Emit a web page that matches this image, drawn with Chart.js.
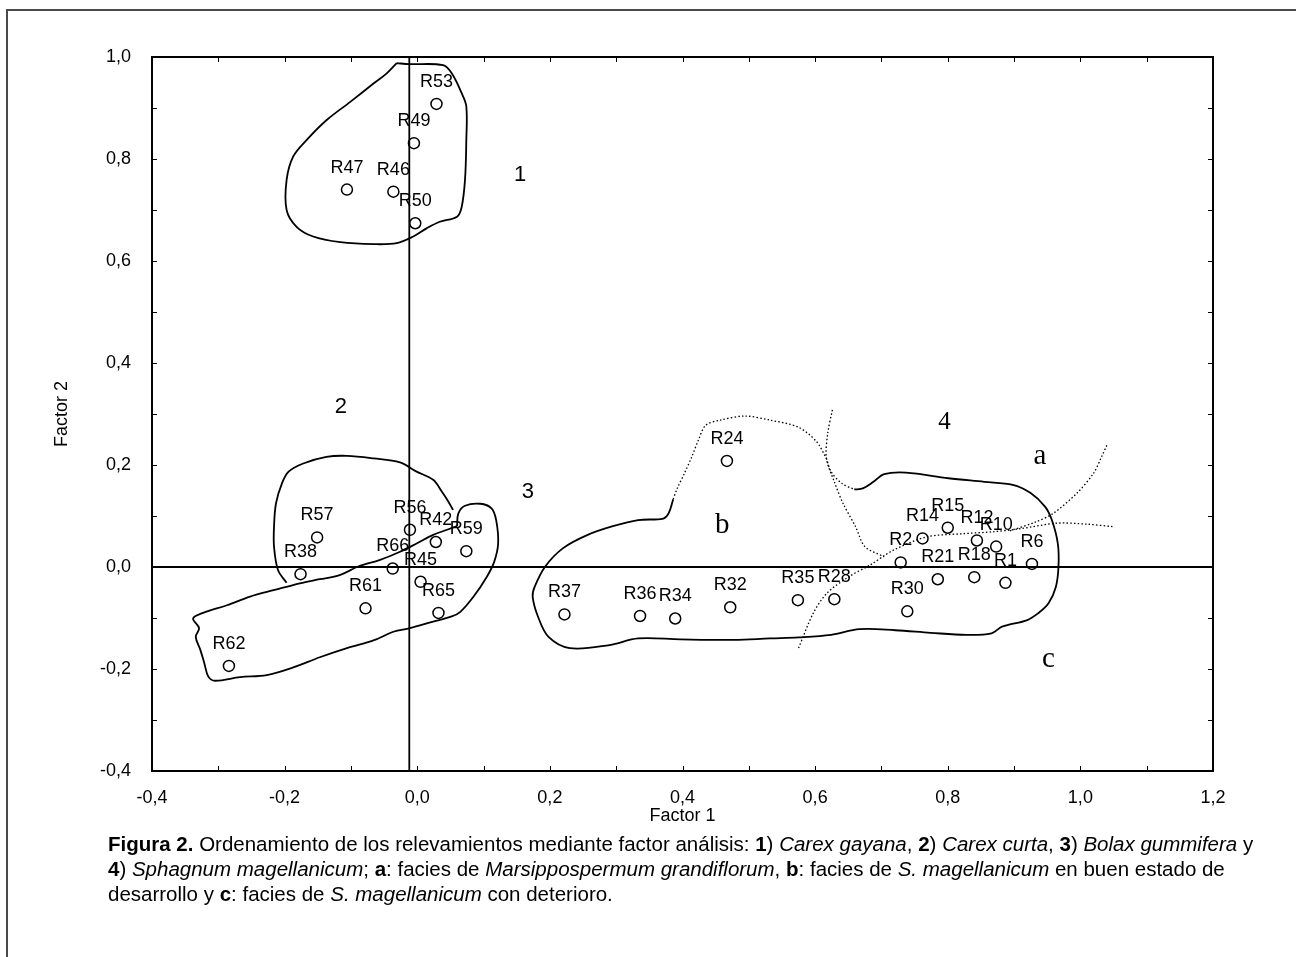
<!DOCTYPE html>
<html>
<head>
<meta charset="utf-8">
<script src="https://cdn.jsdelivr.net/npm/chart.js@4.4.1/dist/chart.umd.min.js"></script>
<style>
  body { margin: 0; background: #fff; width: 1296px; height: 957px; overflow: hidden; position: relative;
         font-family: "Liberation Sans", Arial, sans-serif; }
  #marco { position: absolute; left: 6px; top: 9px; right: -10px; bottom: -10px;
           border-top: 2px solid #4a4a4a; border-left: 2px solid #4a4a4a; }
  #grafico { position: absolute; left: 0; top: 0; }
  #leyenda { position: absolute; left: 108px; top: 831px; font-size: 20.5px; line-height: 25px;
             color: #000; white-space: nowrap; }
</style>
</head>
<body>
<div id="marco"></div>
<canvas id="grafico" width="1296" height="840"></canvas>
<div id="leyenda">
  <b>Figura 2.</b> Ordenamiento de los relevamientos mediante factor análisis: <b>1</b>) <i>Carex gayana</i>, <b>2</b>) <i>Carex curta</i>, <b>3</b>) <i>Bolax gummifera</i> y<br>
  <b>4</b>) <i>Sphagnum magellanicum</i>; <b>a</b>: facies de <i>Marsippospermum grandiflorum</i>, <b>b</b>: facies de <i>S. magellanicum</i> en buen estado de<br>
  desarrollo y <b>c</b>: facies de <i>S. magellanicum</i> con deterioro.
</div>
<script>
// relevamientos
const nombres = ["R53", "R49", "R47", "R46", "R50", "R57", "R38", "R56", "R42", "R59", "R66", "R45", "R65", "R61", "R62",
  "R24", "R37", "R36", "R34", "R32", "R35", "R28", "R30", "R2", "R21", "R18", "R1", "R6", "R14", "R15", "R12", "R10"]
const factor1 = [0.029, -0.005, -0.106, -0.036, -0.003, -0.151, -0.176, -0.011, 0.028, 0.074, -0.037, 0.005, 0.032, -0.078, -0.284,
  0.467, 0.222, 0.336, 0.389, 0.472, 0.574, 0.629, 0.739, 0.729, 0.785, 0.840, 0.887, 0.927, 0.762, 0.800, 0.844, 0.873]
const factor2 = [0.908, 0.831, 0.740, 0.736, 0.674, 0.058, -0.014, 0.073, 0.049, 0.031, -0.003, -0.029, -0.090, -0.081, -0.194,
  0.208, -0.093, -0.096, -0.101, -0.079, -0.065, -0.063, -0.087, 0.009, -0.024, -0.020, -0.031, 0.006, 0.056, 0.077, 0.052, 0.040]

// rotulos de grupos y facies
const grupos = ["1", "2", "3"]
const gruposX = [0.155, -0.115, 0.167]
const gruposY = [0.769, 0.314, 0.148]
const facies = ["4", "a", "b", "c"]
const faciesX = [0.795, 0.939, 0.460, 0.952]
const faciesY = [0.283, 0.216, 0.082, -0.182]

// ejes cruzados
const ejeVertical = -0.012
const ejeHorizontal = 0

// contornos dibujados a mano (en unidades de los factores)
const contorno1 = [[-0.031, 0.988], [-0.012, 0.986], [0.039, 0.984], [0.052, 0.968], [0.067, 0.929], [0.074, 0.903],
  [0.074, 0.837], [0.072, 0.759], [0.067, 0.706], [0.060, 0.687], [0.034, 0.677], [0.014, 0.664], [-0.006, 0.648],
  [-0.031, 0.635], [-0.066, 0.633], [-0.116, 0.637], [-0.157, 0.648], [-0.182, 0.667], [-0.197, 0.700], [-0.197, 0.759],
  [-0.187, 0.805], [-0.167, 0.837], [-0.137, 0.876], [-0.101, 0.912], [-0.066, 0.948], [-0.046, 0.968], [-0.031, 0.988]]
const contorno2 = [[-0.197, -0.031], [-0.210, -0.006], [-0.216, 0.040], [-0.216, 0.079], [-0.213, 0.125], [-0.204, 0.164],
  [-0.194, 0.187], [-0.172, 0.203], [-0.137, 0.216], [-0.106, 0.218], [-0.066, 0.213], [-0.026, 0.205], [-0.001, 0.187],
  [0.024, 0.171], [0.037, 0.148], [0.047, 0.128], [0.054, 0.112]]
const contorno3 = [[0.060, 0.080], [0.062, 0.105], [0.072, 0.120], [0.095, 0.124], [0.112, 0.115], [0.119, 0.092],
  [0.122, 0.046], [0.116, 0.010], [0.105, -0.019], [0.085, -0.058], [0.065, -0.088], [0.052, -0.097], [0.024, -0.107],
  [-0.011, -0.120], [-0.036, -0.127], [-0.066, -0.144], [-0.106, -0.159], [-0.147, -0.177], [-0.187, -0.197],
  [-0.227, -0.212], [-0.267, -0.216], [-0.305, -0.223], [-0.315, -0.215], [-0.321, -0.189], [-0.327, -0.163],
  [-0.334, -0.137], [-0.329, -0.120], [-0.338, -0.101], [-0.323, -0.090], [-0.287, -0.075], [-0.252, -0.058],
  [-0.215, -0.045], [-0.177, -0.032], [-0.147, -0.024], [-0.117, -0.016], [-0.089, 0.001], [-0.056, 0.014],
  [-0.026, 0.030], [-0.001, 0.046], [0.024, 0.063], [0.047, 0.074], [0.060, 0.080]]
const contorno4 = [[0.386, 0.133], [0.379, 0.105], [0.371, 0.095], [0.333, 0.092], [0.295, 0.080], [0.257, 0.063],
  [0.220, 0.037], [0.193, 0.001], [0.177, -0.039], [0.174, -0.058], [0.182, -0.097], [0.198, -0.137], [0.230, -0.159],
  [0.290, -0.153], [0.333, -0.140], [0.397, -0.142], [0.478, -0.143], [0.532, -0.140], [0.575, -0.138], [0.624, -0.133],
  [0.667, -0.122], [0.721, -0.124], [0.774, -0.129], [0.828, -0.133], [0.866, -0.130], [0.882, -0.117], [0.920, -0.104],
  [0.936, -0.091], [0.952, -0.071], [0.963, -0.039], [0.967, 0.001], [0.966, 0.046], [0.957, 0.092], [0.947, 0.118],
  [0.925, 0.145], [0.898, 0.161], [0.855, 0.167], [0.801, 0.174], [0.737, 0.185], [0.704, 0.182], [0.688, 0.167],
  [0.672, 0.154], [0.659, 0.152]]

// limites punteados de facies
const punteadoB = [[0.386, 0.133], [0.392, 0.154], [0.403, 0.184], [0.414, 0.216], [0.424, 0.249], [0.435, 0.278],
  [0.457, 0.288], [0.494, 0.296], [0.532, 0.288], [0.575, 0.274], [0.602, 0.246], [0.617, 0.213]]
const punteadoC = [[0.626, 0.308], [0.619, 0.262], [0.617, 0.213], [0.629, 0.167], [0.642, 0.125], [0.661, 0.079],
  [0.675, 0.040], [0.704, 0.020]]
const punteadoE = [[0.617, 0.213], [0.624, 0.187], [0.640, 0.164], [0.659, 0.152]]
const punteadoA = [[0.575, -0.159], [0.597, -0.091], [0.618, -0.051], [0.651, -0.019], [0.683, 0.004], [0.718, 0.033],
  [0.768, 0.059], [0.819, 0.065], [0.868, 0.069], [0.909, 0.075], [0.965, 0.086], [1.010, 0.084], [1.050, 0.079]]
const punteadoD = [[0.894, 0.071], [0.932, 0.088], [0.959, 0.105], [0.995, 0.145], [1.020, 0.184], [1.032, 0.216],
  [1.040, 0.239]]

const fuente = '"Liberation Sans", Arial, sans-serif'

function aPuntos(lista) {
  return lista.map(([x, y]) => ({ x: x, y: y }))
}

function etiqueta(valor) {
  const n = Math.round(valor * 10)
  if (n % 2 != 0) return ""
  return (n / 10).toFixed(1).replace(".", ",")
}

function trazo(lista, punteado) {
  return {
    data: aPuntos(lista),
    showLine: true,
    pointRadius: 0,
    borderColor: "#000",
    borderWidth: punteado ? 1.3 : 1.8,
    borderDash: punteado ? [1.5, 2.2] : [],
    tension: punteado ? 0.3 : 0.35,
    fill: false
  }
}

const puntos = factor1.map((x, i) => ({ x: x, y: factor2[i] }))

// marco del grafico y marcas hacia adentro
const marcoYMarcas = {
  id: "marcoYMarcas",
  afterDatasetsDraw(chart) {
    const { ctx, chartArea: a, scales: { x, y } } = chart
    ctx.save()
    ctx.strokeStyle = "#000"
    ctx.lineWidth = 1
    ctx.beginPath()
    x.ticks.forEach((t) => {
      const px = Math.round(x.getPixelForValue(t.value)) + 0.5
      ctx.moveTo(px, a.bottom); ctx.lineTo(px, a.bottom - 5)
      ctx.moveTo(px, a.top); ctx.lineTo(px, a.top + 5)
    })
    y.ticks.forEach((t) => {
      const py = Math.round(y.getPixelForValue(t.value)) + 0.5
      ctx.moveTo(a.left, py); ctx.lineTo(a.left + 5, py)
      ctx.moveTo(a.right, py); ctx.lineTo(a.right - 5, py)
    })
    ctx.stroke()
    ctx.lineWidth = 2
    ctx.strokeRect(a.left, a.top, a.right - a.left, a.bottom - a.top)
    ctx.restore()
  }
}

// nombres de relevamientos y rotulos
const rotulos = {
  id: "rotulos",
  afterDatasetsDraw(chart) {
    const { ctx, scales: { x, y } } = chart
    const meta = chart.getDatasetMeta(0)
    ctx.save()
    ctx.fillStyle = "#000"
    ctx.textAlign = "center"
    ctx.textBaseline = "middle"
    ctx.font = "18px " + fuente
    meta.data.forEach((el, i) => {
      ctx.fillText(nombres[i], el.x, el.y - 22)
    })
    ctx.font = "22px " + fuente
    grupos.forEach((g, i) => {
      ctx.fillText(g, x.getPixelForValue(gruposX[i]), y.getPixelForValue(gruposY[i]))
    })
    facies.forEach((f, i) => {
      ctx.font = (f == "4" ? "25px " : "29px ") + '"Liberation Serif", "Times New Roman", serif'
      ctx.fillText(f, x.getPixelForValue(faciesX[i]), y.getPixelForValue(faciesY[i]))
    })
    ctx.restore()
  }
}

const config = {
  type: "scatter",
  data: {
    datasets: [
      {
        data: puntos,
        pointRadius: 5.5,
        pointBorderWidth: 1.5,
        borderColor: "#000",
        backgroundColor: "rgba(0,0,0,0)",
        showLine: false
      },
      trazo([[ejeVertical, -0.4], [ejeVertical, 1.0]], false),
      trazo([[-0.4, ejeHorizontal], [1.2, ejeHorizontal]], false),
      trazo(contorno1, false),
      trazo(contorno2, false),
      trazo(contorno3, false),
      trazo(contorno4, false),
      trazo(punteadoA, true),
      trazo(punteadoB, true),
      trazo(punteadoC, true),
      trazo(punteadoD, true),
      trazo(punteadoE, true)
    ]
  },
  options: {
    responsive: false,
    animation: false,
    layout: { padding: { left: 47, top: 57, right: 83, bottom: 9 } },
    plugins: {
      legend: { display: false },
      tooltip: { enabled: false }
    },
    scales: {
      x: {
        type: "linear",
        min: -0.4,
        max: 1.2,
        grid: { display: false, drawTicks: false },
        border: { display: false },
        ticks: { stepSize: 0.1, autoSkip: false, maxRotation: 0, padding: 16, color: "#000",
                 font: { family: fuente, size: 18 }, callback: etiqueta },
        title: { display: true, text: "Factor 1", color: "#000", font: { family: fuente, size: 18 },
                 padding: { top: 0, bottom: 4 } },
        afterFit(escala) { escala.height = 60 }
      },
      y: {
        type: "linear",
        min: -0.4,
        max: 1.0,
        grid: { display: false, drawTicks: false },
        border: { display: false },
        ticks: { stepSize: 0.1, autoSkip: false, padding: 21, color: "#000",
                 font: { family: fuente, size: 18 }, callback: etiqueta },
        title: { display: true, text: "Factor 2", color: "#000", font: { family: fuente, size: 18 },
                 padding: { top: 4, bottom: 0 } },
        afterFit(escala) { escala.width = 105 }
      }
    }
  },
  plugins: [marcoYMarcas, rotulos]
}

new Chart(document.getElementById("grafico"), config)
</script>
</body>
</html>
